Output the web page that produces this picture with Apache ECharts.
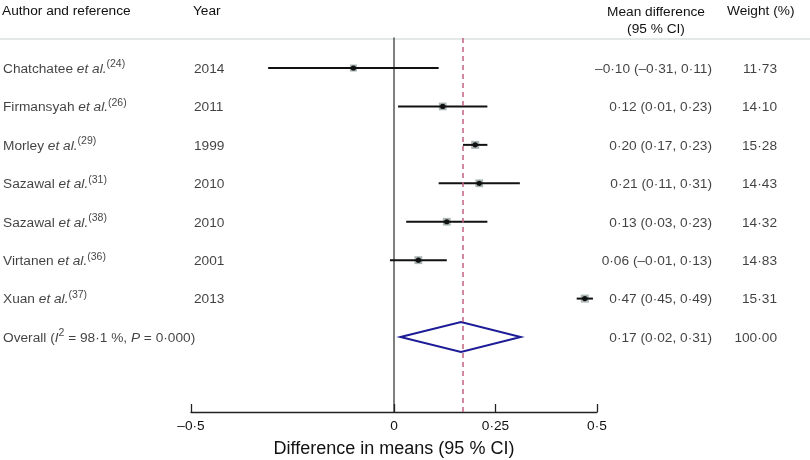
<!DOCTYPE html>
<html><head><meta charset="utf-8">
<script src="https://cdn.jsdelivr.net/npm/echarts@6/dist/echarts.min.js"></script>
<style>html,body{margin:0;padding:0;background:#fff}#c{width:810px;height:460px}</style>
</head><body><div id="c"></div>
<script>
// ---- data ----
const authors = ['Chatchatee', 'Firmansyah', 'Morley', 'Sazawal', 'Sazawal', 'Virtanen', 'Xuan'];
const refs = ['24', '26', '29', '31', '38', '36', '37'];
const years = ['2014', '2011', '1999', '2010', '2010', '2001', '2013'];
const meanDiff = [-0.10, 0.12, 0.20, 0.21, 0.13, 0.06, 0.47];
const ciLow = [-0.31, 0.01, 0.17, 0.11, 0.03, -0.01, 0.45];
const ciHigh = [0.11, 0.23, 0.23, 0.31, 0.23, 0.13, 0.49];
const weights = [11.73, 14.10, 15.28, 14.43, 14.32, 14.83, 15.31];
const overallEst = 0.165, overallLow = 0.016, overallHigh = 0.312;
const overallText = '0·17 (0·02, 0·31)';
const overallWeight = '100·00';
const tickValues = [-0.5, 0, 0.25, 0.5];
const tickLabels = ['–0·5', '0', '0·25', '0·5'];

const FONT = '"Liberation Sans", Arial, Helvetica, sans-serif';
const FS = 13.7;
const TXT = '#111';
function fmt(v) { return (v < 0 ? '–' : '') + Math.abs(v).toFixed(2).replace('.', '·'); }
const nRows = authors.length;
const yMin = -0.781, yMax = 8.951;

const rich = {
  n: { fontSize: FS, fontFamily: FONT, color: TXT, lineHeight: 20 },
  i: { fontSize: FS, fontFamily: FONT, color: TXT, fontStyle: 'italic', lineHeight: 20 },
  s: { fontSize: 10.5, fontFamily: FONT, color: TXT, verticalAlign: 'top', lineHeight: 10 }
};

const studyData = authors.map((a, i) => [i, ciLow[i], meanDiff[i], ciHigh[i], weights[i]]);

function textSeries(xpos, rowsArr, labels, alignRight) {
  return {
    type: 'scatter', xAxisIndex: 1, yAxisIndex: 1, silent: true,
    symbolSize: 2, itemStyle: { color: 'rgba(0,0,0,0)' }, clip: false, z: 5,
    data: rowsArr.map(r => [xpos, r]),
    label: {
      show: true, position: alignRight ? 'left' : 'right', distance: 0, offset: [0, 1],
      formatter: p => labels[p.dataIndex], rich: rich,
      fontSize: FS, fontFamily: FONT, color: TXT
    }
  };
}

const rowIdx = authors.map((a, i) => i);
const authorLabels = authors.map((a, i) => '{n|' + a + ' }{i|et al.}{s|(' + refs[i] + ')}');
authorLabels.push('{n|Overall (}{i|I}{s|2}{n| = 98·1 %, }{i|P}{n| = 0·000)}');
const yearLabels = years.map(y => '{n|' + y + '}');
const mdLabels = meanDiff.map((m, i) => '{n|' + fmt(m) + ' (' + fmt(ciLow[i]) + ', ' + fmt(ciHigh[i]) + ')}');
mdLabels.push('{n|' + overallText + '}');
const wLabels = weights.map(w => '{n|' + w.toFixed(2).replace('.', '·') + '}');
wLabels.push('{n|' + overallWeight + '}');
const allRows = rowIdx.concat([nRows]);

const chart = echarts.init(document.getElementById('c'));
chart.setOption({
  animation: false,
  backgroundColor: '#fff',
  grid: [
    { left: 191, right: 213, top: 38, bottom: 48, containLabel: false, outerBoundsMode: 'none' },
    { left: 0, right: 0, top: 38, bottom: 48, containLabel: false, outerBoundsMode: 'none' }
  ],
  xAxis: [
    {
      type: 'value', gridIndex: 0, min: -0.5, max: 0.5, interval: 0.25,
      axisLine: { show: true, onZero: false, lineStyle: { color: '#222', width: 1.3 } },
      axisTick: { show: true, inside: true, length: 8, customValues: tickValues, lineStyle: { color: '#222', width: 1.3 } },
      axisLabel: { customValues: tickValues, formatter: v => tickLabels[tickValues.indexOf(v)] ?? '', fontSize: FS, fontFamily: FONT, color: TXT, margin: 7 },
      splitLine: { show: false },
      name: 'Difference in means (95 % CI)', nameLocation: 'middle', nameGap: 28,
      nameTextStyle: { fontSize: 18, fontFamily: FONT, color: TXT }
    },
    { type: 'value', gridIndex: 1, min: 0, max: 810, show: false }
  ],
  yAxis: [
    {
      type: 'value', gridIndex: 0, inverse: true, min: yMin, max: yMax,
      axisLine: { show: true, onZero: true, lineStyle: { color: '#555', width: 1.5 } },
      axisTick: { show: false }, axisLabel: { show: false }, splitLine: { show: false }
    },
    { type: 'value', gridIndex: 1, inverse: true, min: yMin, max: yMax, show: false }
  ],
  graphic: [
    { type: 'line', shape: { x1: 0, y1: 39, x2: 810, y2: 39 }, style: { stroke: '#dde0e0', lineWidth: 1.5 } },
    { type: 'text', left: 2, top: 4, style: { text: 'Author and reference', font: FS + 'px ' + FONT, fill: TXT } },
    { type: 'text', left: 193, top: 4, style: { text: 'Year', font: FS + 'px ' + FONT, fill: TXT } },
    { type: 'text', x: 656, y: 4, style: { text: 'Mean difference\n(95 % CI)', font: FS + 'px ' + FONT, fill: TXT, textAlign: 'center', lineHeight: 17 } },
    { type: 'text', left: 727, top: 4, style: { text: 'Weight (%)', font: FS + 'px ' + FONT, fill: TXT } }
  ],
  series: [
    {
      type: 'custom', xAxisIndex: 0, yAxisIndex: 0, silent: true,
      data: studyData,
      encode: { x: [1, 2, 3], y: 0 },
      renderItem: function (params, api) {
        const r = api.value(0);
        const a = api.coord([api.value(1), r]);
        const m = api.coord([api.value(2), r]);
        const b = api.coord([api.value(3), r]);
        const sz = 2.05 * Math.sqrt(api.value(4));
        return {
          type: 'group', children: [
            { type: 'rect', shape: { x: m[0] - sz / 2, y: m[1] - sz / 2, width: sz, height: sz }, style: { fill: '#aab6b5' } },
            { type: 'line', shape: { x1: a[0], y1: a[1], x2: b[0], y2: b[1] }, style: { stroke: '#111', lineWidth: 2 } },
            { type: 'circle', shape: { cx: m[0], cy: m[1], r: 2.6 }, style: { fill: '#111' } }
          ]
        };
      },
      markLine: {
        silent: true, symbol: 'none', label: { show: false },
        lineStyle: { type: [5, 4], color: '#c2607e', width: 1.5 },
        data: [{ xAxis: overallEst }]
      }
    },
    {
      type: 'custom', xAxisIndex: 0, yAxisIndex: 0, silent: true,
      data: [[nRows, overallLow, overallEst, overallHigh]],
      encode: { x: [1, 2, 3], y: 0 },
      renderItem: function (params, api) {
        const r = api.value(0);
        const a = api.coord([api.value(1), r]);
        const m = api.coord([api.value(2), r]);
        const b = api.coord([api.value(3), r]);
        const h = 15;
        return {
          type: 'polygon',
          shape: { points: [[a[0], a[1]], [m[0], m[1] - h], [b[0], b[1]], [m[0], m[1] + h]] },
          style: { fill: 'none', stroke: '#1c1c96', lineWidth: 2 }
        };
      }
    },
    textSeries(2, allRows, authorLabels, false),
    textSeries(193, rowIdx, yearLabels, false),
    textSeries(713, allRows, mdLabels, true),
    textSeries(778, allRows, wLabels, true)
  ]
});
</script>
</body></html>
